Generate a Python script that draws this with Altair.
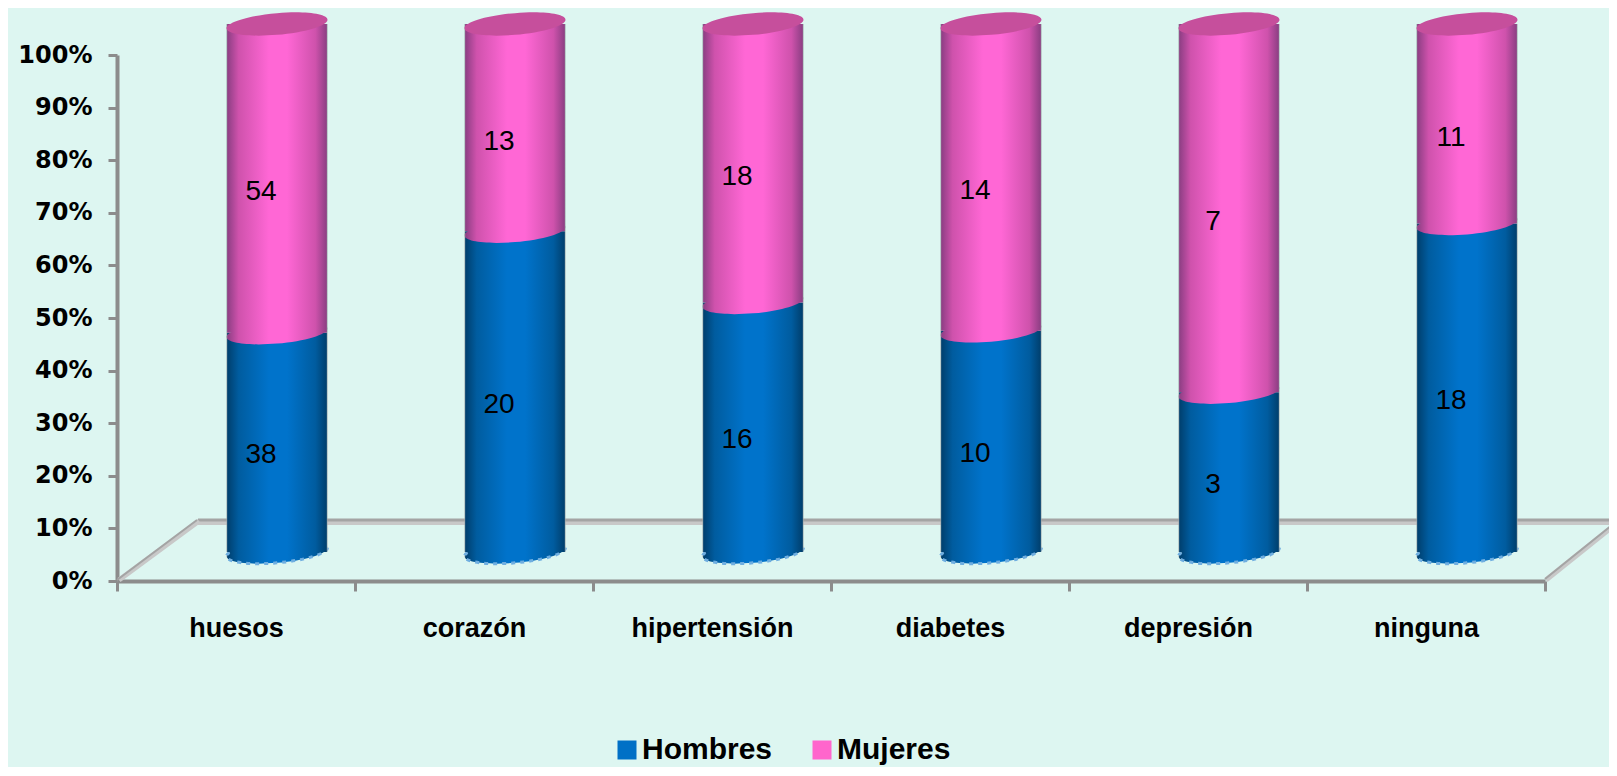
import altair as alt
import pandas as pd

categories = ["huesos", "corazón", "hipertensión", "diabetes", "depresión", "ninguna"]
hombres = [38, 20, 16, 10, 3, 18]
mujeres = [54, 13, 18, 14, 7, 11]
series_names = ["Hombres", "Mujeres"]
series_colors = ["#0070C6", "#FF66CC"]

BG = "#DDF6F1"
FONT = "Liberation Sans"
ELLIPSE = (
    "M1,-0.085 C1,0.0337 0.5523,0.1681 0,0.215 C-0.5523,0.2619 -1,0.2037 -1,0.085 "
    "C-1,-0.0337 -0.5523,-0.1681 0,-0.215 C0.5523,-0.2619 1,-0.2037 1,-0.085 Z"
)
BAR_W = 101
DX, DY, BASE_DY, LABEL_DX, LABEL_DY = 41, -31, -29, 25, -17

df = pd.DataFrame({"cat": categories, "h": hombres, "m": mujeres})
df["total"] = df.h + df.m
df["hs"] = df.h / df.total
df["one"] = 1.0
df["zero"] = 0.0
df["hmid"] = df.hs / 2
df["mmid"] = (df.hs + 1) / 2
legend_df = pd.DataFrame({"s": series_names})


def grad(edge, mid, shade):
    return alt.Gradient(
        gradient="linear", x1=0, x2=1, y1=0, y2=0,
        stops=[
            alt.GradientStop(offset=0, color="#9aa5a8"),
            alt.GradientStop(offset=0.012, color=edge),
            alt.GradientStop(offset=0.12, color=shade),
            alt.GradientStop(offset=0.42, color=mid),
            alt.GradientStop(offset=0.6, color=mid),
            alt.GradientStop(offset=0.88, color=shade),
            alt.GradientStop(offset=0.988, color=edge),
            alt.GradientStop(offset=1, color="#9aa5a8"),
        ],
    )


BLUE = grad("#00406F", "#0073CB", "#005C9F")
PINK = grad("#8F3F85", "#FF67D5", "#CF52AC")

x_enc = alt.X(
    "cat:N", sort=categories, title=None,
    scale=alt.Scale(paddingInner=0, paddingOuter=0),
    axis=alt.Axis(
        labelAngle=0, tickBand="extent", tickSize=10, tickWidth=3, tickColor="#8c8c8c",
        domainColor="#8c8c8c", domainWidth=4, labelFont=FONT, labelFontSize=27,
        labelFontWeight="bold", labelColor="#000000", labelPadding=24, labelBaseline="top",
    ),
)
y_scale = alt.Scale(domain=[0, 1], nice=False)
y_axis = alt.Axis(
    values=[i / 10 for i in range(11)], format=".0%", grid=False, tickSize=9, tickWidth=3,
    tickColor="#8c8c8c", domainColor="#8c8c8c", domainWidth=4, labelFont="DejaVu Sans",
    labelFontSize=24, labelFontWeight="bold", labelColor="#000000", labelPadding=16, title=None,
)

frame = alt.Chart(alt.Data(values=[{}]))


def rule(x, x2, y, y2, color, width):
    return frame.mark_rule(color=color, strokeWidth=width).encode(
        x=alt.value(x), x2=alt.value(x2), y=alt.value(y), y2=alt.value(y2)
    )


floor = [
    rule(81, 1492, 467, 467, "#C8C8C8", 6),
    rule(81, 1492, 465, 465, "#A4A4A4", 3),
    rule(2, 82, 525, 466, "#C8C8C8", 5),
    rule(0, 80, 525, 465, "#A4A4A4", 2),
    rule(1429, 1500, 525, 468, "#C8C8C8", 5),
    rule(1428, 1500, 524, 466, "#A4A4A4", 2),
]

base = alt.Chart(df).encode(x=x_enc)


def body(lo, hi, fill, off_lo, off_hi):
    return base.mark_bar(
        fill=fill, width=BAR_W, xOffset=DX, yOffset=off_lo, y2Offset=off_hi, stroke=None
    ).encode(y=alt.Y(f"{lo}:Q", scale=y_scale, axis=y_axis), y2=f"{hi}:Q")


def ellipse(field, offset, **style):
    return base.mark_point(
        shape=ELLIPSE, size=BAR_W ** 2, xOffset=DX, yOffset=offset, opacity=1, **style
    ).encode(y=alt.Y(f"{field}:Q", scale=y_scale, axis=y_axis))


def label(field, text):
    return base.mark_text(
        font=FONT, fontSize=28, color="#000000", baseline="middle", align="center",
        xOffset=LABEL_DX, yOffset=LABEL_DY,
    ).encode(y=alt.Y(f"{field}:Q", scale=y_scale, axis=y_axis), text=f"{text}:Q")


legend_layer = alt.Chart(legend_df).mark_point(filled=True, size=0, opacity=0).encode(
    color=alt.Color(
        "s:N", sort=series_names,
        scale=alt.Scale(domain=series_names, range=series_colors),
        legend=alt.Legend(
            title=None, orient="none", direction="horizontal", legendX=495, legendY=680,
            symbolType="square", symbolSize=361, symbolOpacity=1, symbolStrokeWidth=0,
            labelFont=FONT, labelFontSize=30, labelFontWeight="bold", labelColor="#000000",
            columnPadding=34, labelOffset=0, padding=0,
        ),
    )
)

chart = alt.layer(
    *floor,
    ellipse("zero", BASE_DY, filled=True, fill=BLUE),
    ellipse("zero", BASE_DY, filled=False, stroke="#6FAEE0", strokeWidth=3, strokeDash=[4, 5]),
    body("zero", "hs", BLUE, BASE_DY, DY),
    body("hs", "one", PINK, DY, DY),
    ellipse("hs", DY, filled=True, fill=PINK),
    ellipse("one", DY, filled=True, fill="#C64F9C"),
    label("hmid", "h"),
    label("mmid", "m"),
    legend_layer,
).properties(
    width=1428,
    height=526,
    background=BG,
    padding={"left": 109, "right": 64, "top": 47, "bottom": 186},
    autosize=alt.AutoSizeParams(type="none"),
).configure_view(stroke=None)

chart.save("out.html", embed_options={"renderer": "svg", "actions": False})
